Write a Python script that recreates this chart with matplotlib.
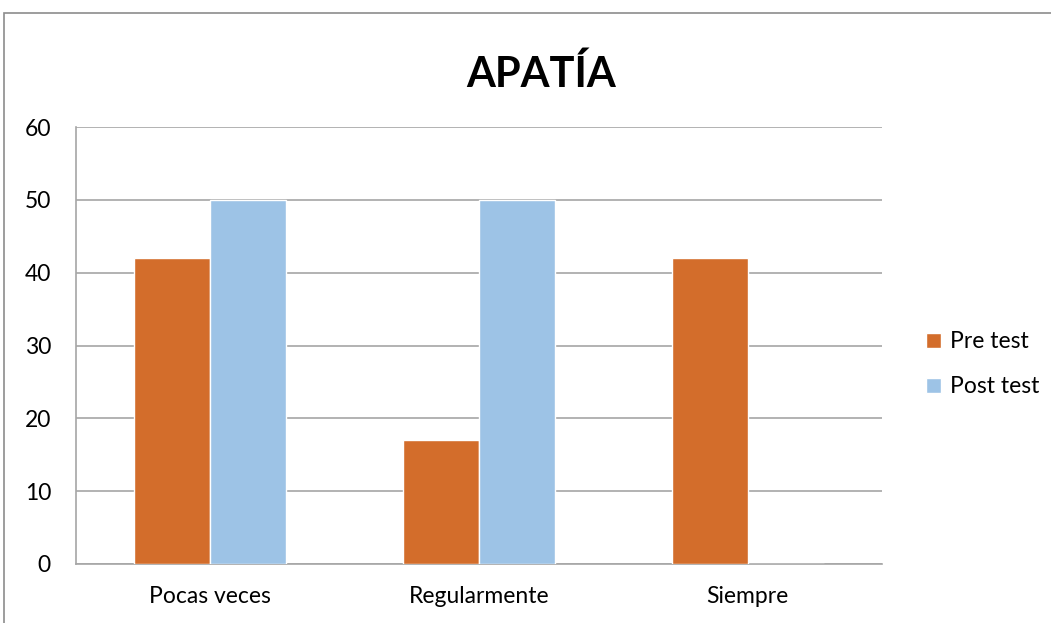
import matplotlib.pyplot as plt
import numpy as np
from matplotlib.patches import Rectangle

categories = ["Pocas veces", "Regularmente", "Siempre"]
pre_test = [42, 17, 42]
post_test = [50, 50, 0]
series_names = ["Pre test", "Post test"]
y_ticks = [0, 10, 20, 30, 40, 50, 60]

ORANGE = "#D36D2B"
BLUE = "#9DC3E6"
GRID = "#A6A6A6"

plt.rcParams['font.family'] = ['Lato', 'DejaVu Sans']

fig = plt.figure(figsize=(10.51, 6.23), dpi=100)
# outer chart frame
fig.patches.append(Rectangle((4 / 1051, -0.05), 1.2, 1 - 13 / 623 + 0.05,
                             transform=fig.transFigure, fill=False,
                             edgecolor="#8C8C8C", linewidth=1.2))

ax = fig.add_axes([76 / 1051, 59 / 623, 806 / 1051, 437 / 623])

x = np.arange(len(categories))
w = 0.283
ax.bar(x - w / 2, pre_test, w, color=ORANGE, edgecolor="white", linewidth=1,
       label=series_names[0], zorder=3)
ax.bar(x + w / 2, post_test, w, color=BLUE, edgecolor="white", linewidth=1,
       label=series_names[1], zorder=3)

ax.set_xlim(-0.5, 2.5)
ax.set_ylim(0, 60)
ax.set_yticks(y_ticks)
ax.set_xticks(x)
ax.set_xticklabels(categories)
ax.yaxis.grid(True, color=GRID, linewidth=1.2, zorder=0)
ax.set_axisbelow(True)

for s in ["top", "right"]:
    ax.spines[s].set_visible(False)
for s in ["left", "bottom"]:
    ax.spines[s].set_color(GRID)
    ax.spines[s].set_linewidth(1.2)

ax.tick_params(axis="y", length=0, pad=18, labelsize=16.5)
ax.tick_params(axis="x", length=0, pad=16, labelsize=16.5)

fig.text(0.515, 0.881, "APATÍA", ha="center", va="center",
         fontsize=30, fontweight="bold")

fig.legend(loc="center left", bbox_to_anchor=(905 / 1051, 0.415),
           frameon=False, fontsize=16.5, handlelength=0.65, handleheight=0.65,
           handletextpad=0.4, labelspacing=1.05)

fig.savefig("out.png", dpi=100)
